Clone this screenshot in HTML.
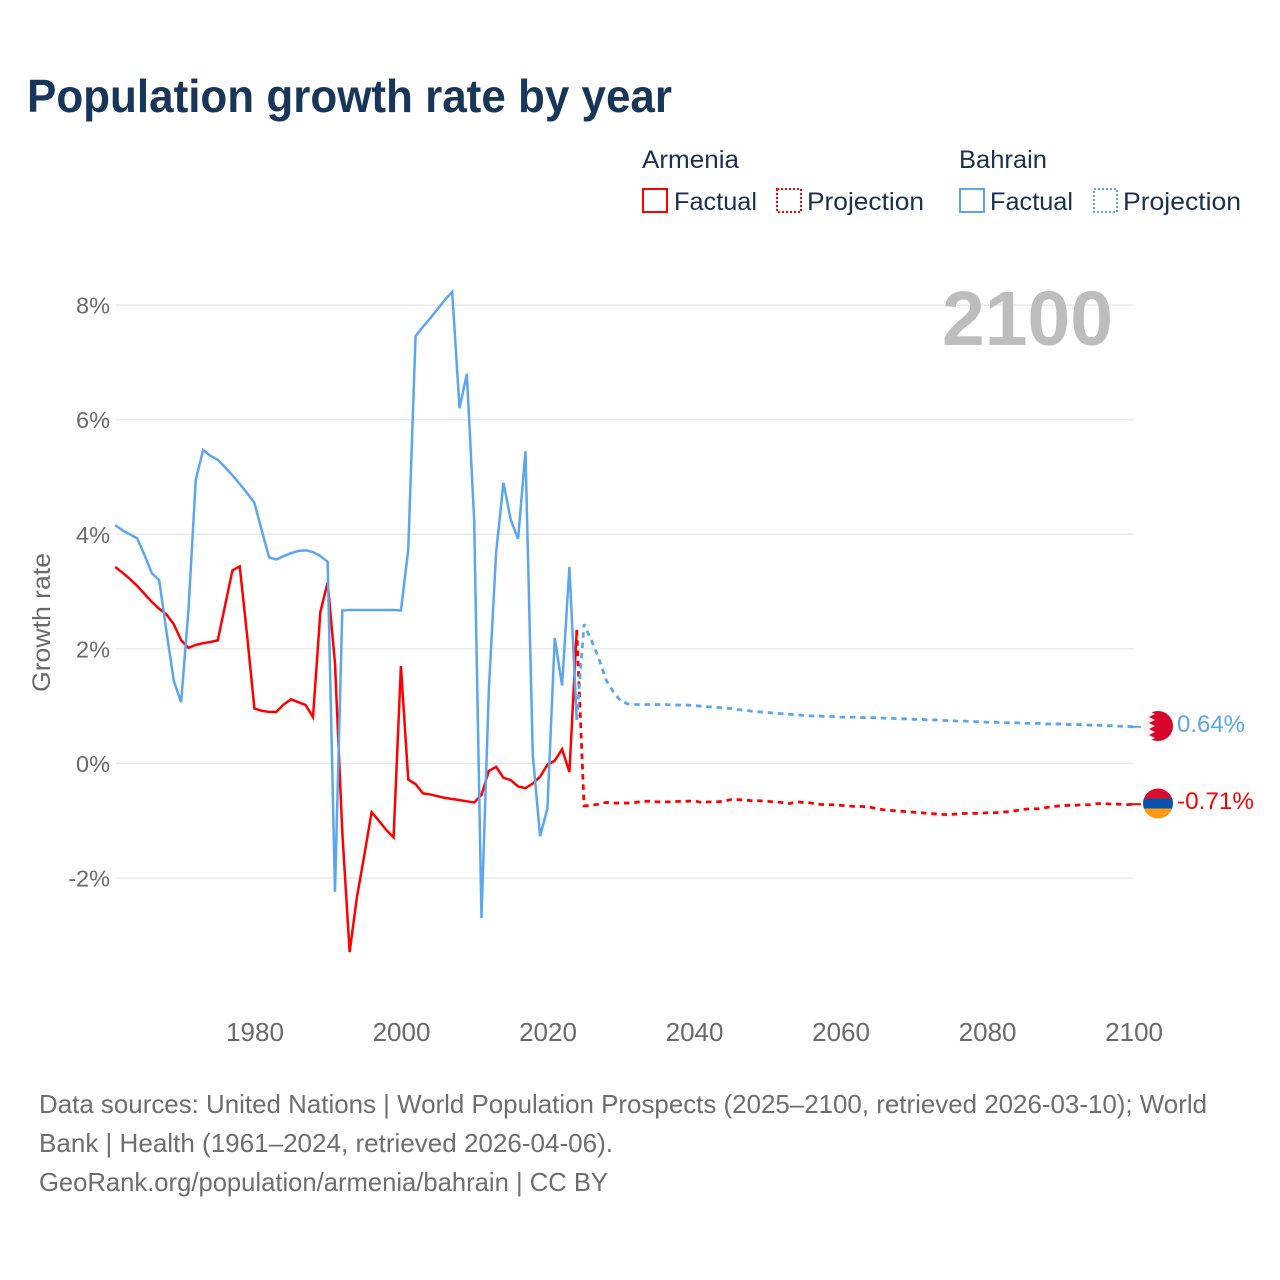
<!DOCTYPE html>
<html lang="en">
<head>
<meta charset="utf-8">
<title>Population growth rate by year</title>
<style>
html,body{margin:0;padding:0;background:#fff;}
svg{display:block;font-family:"Liberation Sans",sans-serif;}
</style>
</head>
<body>
<svg id="chart" xmlns="http://www.w3.org/2000/svg" width="1280" height="1280" viewBox="0 0 1280 1280">
  <rect x="0" y="0" width="1280" height="1280" fill="#ffffff"/>
  <text x="27" y="112" font-size="46" font-weight="700" fill="#18355a" textLength="645" lengthAdjust="spacingAndGlyphs">Population growth rate by year</text>

  <g>
    <text x="642" y="168" font-size="25" fill="#1a3050" textLength="97" lengthAdjust="spacingAndGlyphs">Armenia</text>
    <text x="959" y="168" font-size="25" fill="#1a3050" textLength="88" lengthAdjust="spacingAndGlyphs">Bahrain</text>
    <g>
      <rect x="643" y="189" width="24" height="23" fill="none" stroke="#ff0000" stroke-width="2"/>
      <text x="674" y="210" font-size="25" fill="#1a3050" textLength="83" lengthAdjust="spacingAndGlyphs">Factual</text>
    </g>
    <g>
      <rect x="777" y="189" width="24" height="23" fill="none" stroke="#ff0000" stroke-width="2" stroke-dasharray="2 2"/>
      <text x="807" y="210" font-size="25" fill="#1a3050" textLength="117" lengthAdjust="spacingAndGlyphs">Projection</text>
    </g>
    <g>
      <rect x="960" y="189" width="24" height="23" fill="none" stroke="#5ca6ee" stroke-width="2"/>
      <text x="990" y="210" font-size="25" fill="#1a3050" textLength="83" lengthAdjust="spacingAndGlyphs">Factual</text>
    </g>
    <g>
      <rect x="1094" y="189" width="23" height="23" fill="none" stroke="#5ca6ee" stroke-width="2" stroke-dasharray="2 2"/>
      <text x="1123" y="210" font-size="25" fill="#1a3050" textLength="118" lengthAdjust="spacingAndGlyphs">Projection</text>
    </g>
  </g>

  <g id="grid"></g>
  <text x="942" y="345" font-size="77" font-weight="700" fill="#bdbdbd" textLength="171" lengthAdjust="spacingAndGlyphs">2100</text>
  <text transform="translate(50,692) rotate(-90)" font-size="25" fill="#6a6a6a" textLength="139" lengthAdjust="spacingAndGlyphs">Growth rate</text>
  <g id="yticks"></g>
  <g id="xticks"></g>
  <g id="series"></g>

  <g>
    <clipPath id="clip-bh"><circle cx="1158" cy="726" r="15"/></clipPath>
    <g clip-path="url(#clip-bh)">
      <rect x="1143" y="711" width="30" height="30" fill="#f0f0f0"/>
      <polygon points="1173,711 1149,711 1155,714 1149,717 1155,720 1149,723 1155,726 1149,729 1155,732 1149,735 1155,738 1149,741 1173,741" fill="#d7052b"/>
    </g>
  </g>
  <g>
    <clipPath id="clip-am"><circle cx="1158" cy="803.5" r="15"/></clipPath>
    <g clip-path="url(#clip-am)">
      <rect x="1143" y="788" width="30" height="10.5" fill="#d90f2b"/>
      <rect x="1143" y="798.5" width="30" height="10" fill="#0a50ae"/>
      <rect x="1143" y="808.5" width="30" height="10.5" fill="#ff9a10"/>
    </g>
  </g>
  <text x="1177" y="732" font-size="24.5" fill="#5ca6ee" textLength="68" lengthAdjust="spacingAndGlyphs">0.64%</text>
  <text x="1177" y="809" font-size="24.5" fill="#ff0000" textLength="77" lengthAdjust="spacingAndGlyphs">-0.71%</text>

  <g>
    <text x="39" y="1113" font-size="26" fill="#6e6e6e" textLength="1168" lengthAdjust="spacingAndGlyphs">Data sources: United Nations | World Population Prospects (2025–2100, retrieved 2026-03-10); World</text>
    <text x="39" y="1152" font-size="26" fill="#6e6e6e" textLength="574" lengthAdjust="spacingAndGlyphs">Bank | Health (1961–2024, retrieved 2026-04-06).</text>
    <text x="39" y="1191" font-size="26" fill="#6e6e6e" textLength="569" lengthAdjust="spacingAndGlyphs">GeoRank.org/population/armenia/bahrain | CC BY</text>
  </g>
</svg>
<script>
const yTickValues = [8, 6, 4, 2, 0, -2];
const xTickYears = [1980, 2000, 2020, 2040, 2060, 2080, 2100];
const factualStartYear = 1961;
const projectionStartYear = 2024;

const armeniaFactual = [
  3.43, 3.33, 3.22, 3.10, 2.96, 2.82, 2.70, 2.60, 2.43, 2.15,
  2.02, 2.07, 2.10, 2.12, 2.15, 2.76, 3.37, 3.44, 2.24, 0.96,
  0.92, 0.90, 0.90, 1.03, 1.12, 1.07, 1.02, 0.81, 2.64, 3.16,
  1.75, -1.20, -3.29, -2.33, -1.60, -0.85, -1.00, -1.16, -1.29, 1.70,
  -0.28, -0.36, -0.52, -0.54, -0.57, -0.60, -0.62, -0.64, -0.66, -0.68,
  -0.55, -0.13, -0.06, -0.25, -0.29, -0.40, -0.43, -0.35, -0.23, -0.02,
  0.05, 0.25, -0.15, 2.33
];
const bahrainFactual = [
  4.16, 4.07, 4.00, 3.93, 3.64, 3.32, 3.20, 2.30, 1.44, 1.07,
  2.68, 4.95, 5.47, 5.37, 5.30, 5.17, 5.03, 4.88, 4.72, 4.55,
  4.07, 3.60, 3.56, 3.62, 3.67, 3.71, 3.72, 3.69, 3.62, 3.52,
  -2.24, 2.67, 2.68, 2.68, 2.68, 2.68, 2.68, 2.68, 2.68, 2.67,
  3.73, 7.46, 7.62, 7.77, 7.93, 8.09, 8.23, 6.20, 6.80, 4.25,
  -2.70, 1.28, 3.69, 4.90, 4.25, 3.92, 5.45, 0.15, -1.27, -0.78,
  2.19, 1.36, 3.43, 0.76
];
const armeniaProjection = [
  2.33, -0.74, -0.73, -0.71, -0.68, -0.69, -0.69, -0.69, -0.68, -0.66,
  -0.66, -0.67, -0.67, -0.67, -0.66, -0.66, -0.65, -0.68, -0.67, -0.67,
  -0.66, -0.63, -0.63, -0.64, -0.65, -0.65, -0.66, -0.67, -0.68, -0.70,
  -0.67, -0.68, -0.69, -0.71, -0.72, -0.72, -0.73, -0.74, -0.75, -0.75,
  -0.76, -0.79, -0.81, -0.82, -0.83, -0.84, -0.85, -0.86, -0.87, -0.88,
  -0.89, -0.89, -0.88, -0.87, -0.87, -0.87, -0.86, -0.86, -0.85, -0.84,
  -0.82, -0.80, -0.79, -0.79, -0.77, -0.75, -0.74, -0.73, -0.73, -0.72,
  -0.72, -0.70, -0.70, -0.71, -0.71, -0.72, -0.71
];
const bahrainProjection = [
  0.76, 2.43, 2.15, 1.84, 1.46, 1.25, 1.09, 1.04, 1.03, 1.03,
  1.03, 1.03, 1.03, 1.02, 1.02, 1.02, 1.01, 1.00, 0.99, 0.98,
  0.97, 0.96, 0.94, 0.93, 0.91, 0.90, 0.89, 0.88, 0.87, 0.86,
  0.85, 0.84, 0.83, 0.83, 0.82, 0.82, 0.81, 0.81, 0.81, 0.80,
  0.80, 0.80, 0.79, 0.79, 0.78, 0.78, 0.77, 0.77, 0.76, 0.76,
  0.75, 0.75, 0.74, 0.74, 0.73, 0.73, 0.72, 0.72, 0.71, 0.71,
  0.71, 0.70, 0.70, 0.70, 0.69, 0.69, 0.69, 0.68, 0.68, 0.68,
  0.67, 0.67, 0.66, 0.66, 0.65, 0.65, 0.64
];

const NS = 'http://www.w3.org/2000/svg';
const plotLeft = 115.2, plotRight = 1133.5, gridLeft = 116, leaderEnd = 1141;
function xScale(year) { return plotLeft + (year - 1961) * (plotRight - plotLeft) / 139; }
function yScale(v) { return 763.5 - v * 57.3; }

function linePath(values, startYear) {
  return values.map(function (v, i) {
    return (i ? 'L' : 'M') + xScale(startYear + i).toFixed(2) + ' ' + yScale(v).toFixed(2);
  }).join(' ');
}

const gridGroup = document.getElementById('grid');
const yTickGroup = document.getElementById('yticks');
yTickValues.forEach(function (v) {
  const ln = document.createElementNS(NS, 'line');
  
  
  ln.setAttribute('x1', gridLeft);
  ln.setAttribute('x2', plotRight);
  ln.setAttribute('y1', yScale(v));
  ln.setAttribute('y2', yScale(v));
  ln.setAttribute('stroke', '#e9e9e9');
  ln.setAttribute('stroke-width', '1.5');
  gridGroup.appendChild(ln);

  const t = document.createElementNS(NS, 'text');
  
  
  t.setAttribute('x', 110);
  t.setAttribute('y', yScale(v) + 8.5);
  t.setAttribute('text-anchor', 'end');
  t.setAttribute('font-size', '23.5');
  t.setAttribute('fill', '#6a6a6a');
  t.textContent = v + '%';
  yTickGroup.appendChild(t);
});

const xTickGroup = document.getElementById('xticks');
xTickYears.forEach(function (yr) {
  const t = document.createElementNS(NS, 'text');
  
  
  t.setAttribute('x', xScale(yr) + 0.6);
  t.setAttribute('y', 1041);
  t.setAttribute('text-anchor', 'middle');
  t.setAttribute('font-size', '26');
  t.setAttribute('fill', '#6a6a6a');
  t.textContent = yr;
  xTickGroup.appendChild(t);
});

const seriesGroup = document.getElementById('series');
function addLine(name, values, startYear, color, dashed) {
  const p = document.createElementNS(NS, 'path');
  
  
  p.setAttribute('d', linePath(values, startYear));
  p.setAttribute('fill', 'none');
  p.setAttribute('stroke', color);
  p.setAttribute('stroke-width', dashed ? '2.8' : '2.5');
  p.setAttribute('stroke-linejoin', 'miter');
  if (dashed) { p.setAttribute('stroke-dasharray', '5.5 4.8'); }
  seriesGroup.appendChild(p);
}
function addLeader(name, value, color) {
  const l = document.createElementNS(NS, 'line');
  
  
  l.setAttribute('x1', plotRight - 3);
  l.setAttribute('x2', leaderEnd);
  l.setAttribute('y1', yScale(value));
  l.setAttribute('y2', yScale(value));
  l.setAttribute('stroke', color);
  l.setAttribute('stroke-width', '2');
  seriesGroup.appendChild(l);
}
addLine('armenia-factual-line', armeniaFactual, factualStartYear, '#ff0000', false);
addLine('bahrain-factual-line', bahrainFactual, factualStartYear, '#5ca6ee', false);
addLine('armenia-projection-line', armeniaProjection, projectionStartYear, '#ff0000', true);
addLine('bahrain-projection-line', bahrainProjection, projectionStartYear, '#5ca6ee', true);
addLeader('armenia-leader-line', armeniaProjection[armeniaProjection.length - 1], '#ff0000');
addLeader('bahrain-leader-line', bahrainProjection[bahrainProjection.length - 1], '#5ca6ee');
</script>
</body>
</html>
